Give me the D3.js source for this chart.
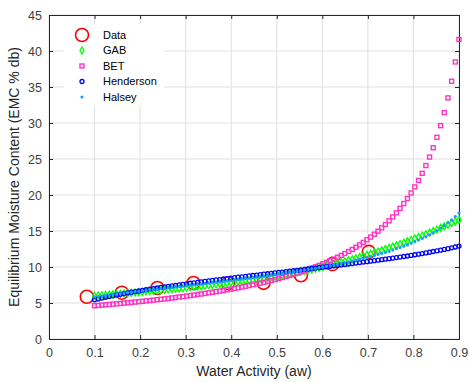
<!DOCTYPE html>
<html>
<head>
<meta charset="utf-8">
<script src="https://cdn.jsdelivr.net/npm/d3@7"></script>
<style>
  body { margin: 0; background: #fff; }
  svg { display: block; font-family: "Liberation Sans", Arial, sans-serif; }
</style>
</head>
<body>
<svg id="chart" width="469" height="382"></svg>
<script>
// measured data points
var dataAw = [0.083, 0.160, 0.238, 0.317, 0.393, 0.471, 0.553, 0.622, 0.702];
var dataEmc = [5.87, 6.43, 7.08, 7.78, 7.74, 7.8, 8.85, 10.4, 12.1];

// water activity grid of the fitted curves (0.1 .. 0.9, 100 points)
var aw = [0.1000, 0.1081, 0.1162, 0.1242, 0.1323, 0.1404, 0.1485, 0.1566, 0.1646, 0.1727,
  0.1808, 0.1889, 0.1970, 0.2051, 0.2131, 0.2212, 0.2293, 0.2374, 0.2455, 0.2535,
  0.2616, 0.2697, 0.2778, 0.2859, 0.2939, 0.3020, 0.3101, 0.3182, 0.3263, 0.3343,
  0.3424, 0.3505, 0.3586, 0.3667, 0.3747, 0.3828, 0.3909, 0.3990, 0.4071, 0.4152,
  0.4232, 0.4313, 0.4394, 0.4475, 0.4556, 0.4636, 0.4717, 0.4798, 0.4879, 0.4960,
  0.5040, 0.5121, 0.5202, 0.5283, 0.5364, 0.5444, 0.5525, 0.5606, 0.5687, 0.5768,
  0.5848, 0.5929, 0.6010, 0.6091, 0.6172, 0.6253, 0.6333, 0.6414, 0.6495, 0.6576,
  0.6657, 0.6737, 0.6818, 0.6899, 0.6980, 0.7061, 0.7141, 0.7222, 0.7303, 0.7384,
  0.7465, 0.7545, 0.7626, 0.7707, 0.7788, 0.7869, 0.7949, 0.8030, 0.8111, 0.8192,
  0.8273, 0.8354, 0.8434, 0.8515, 0.8596, 0.8677, 0.8758, 0.8838, 0.8919, 0.9000];

var gab = [6.00, 6.04, 6.08, 6.12, 6.16, 6.20, 6.24, 6.28, 6.33, 6.37,
  6.41, 6.45, 6.50, 6.54, 6.59, 6.63, 6.68, 6.73, 6.77, 6.82,
  6.87, 6.92, 6.97, 7.02, 7.07, 7.12, 7.18, 7.23, 7.29, 7.34,
  7.40, 7.46, 7.52, 7.57, 7.63, 7.69, 7.75, 7.82, 7.88, 7.95,
  8.01, 8.08, 8.15, 8.22, 8.29, 8.36, 8.44, 8.52, 8.60, 8.68,
  8.76, 8.85, 8.95, 9.04, 9.14, 9.23, 9.34, 9.44, 9.55, 9.65,
  9.76, 9.88, 10.01, 10.13, 10.26, 10.38, 10.52, 10.66, 10.79, 10.93,
  11.07, 11.22, 11.37, 11.53, 11.68, 11.83, 12.00, 12.16, 12.33, 12.49,
  12.66, 12.84, 13.02, 13.20, 13.38, 13.56, 13.76, 13.96, 14.15, 14.35,
  14.55, 14.77, 14.99, 15.21, 15.43, 15.65, 15.88, 16.10, 16.33, 16.55];

var bet = [4.62, 4.66, 4.71, 4.75, 4.79, 4.84, 4.89, 4.93, 4.98, 5.03,
  5.08, 5.13, 5.18, 5.23, 5.29, 5.34, 5.40, 5.46, 5.51, 5.57,
  5.63, 5.70, 5.76, 5.83, 5.89, 5.96, 6.03, 6.10, 6.18, 6.25,
  6.33, 6.41, 6.49, 6.57, 6.65, 6.74, 6.83, 6.92, 7.02, 7.11,
  7.21, 7.32, 7.42, 7.53, 7.64, 7.76, 7.87, 8.00, 8.12, 8.25,
  8.39, 8.53, 8.67, 8.82, 8.97, 9.13, 9.30, 9.47, 9.65, 9.83,
  10.02, 10.22, 10.43, 10.64, 10.87, 11.10, 11.34, 11.60, 11.87, 12.15,
  12.44, 12.75, 13.07, 13.42, 13.78, 14.15, 14.55, 14.98, 15.43, 15.90,
  16.41, 16.95, 17.52, 18.14, 18.81, 19.52, 20.28, 21.12, 22.02, 23.01,
  24.09, 25.27, 26.56, 28.01, 29.63, 31.44, 33.49, 35.80, 38.48, 41.60];

var henderson = [5.44, 5.56, 5.69, 5.80, 5.91, 6.02, 6.12, 6.21, 6.31, 6.40,
  6.50, 6.59, 6.67, 6.76, 6.84, 6.93, 7.01, 7.08, 7.16, 7.23,
  7.31, 7.38, 7.45, 7.53, 7.60, 7.67, 7.74, 7.80, 7.87, 7.93,
  8.00, 8.07, 8.13, 8.20, 8.26, 8.33, 8.39, 8.45, 8.52, 8.58,
  8.64, 8.70, 8.76, 8.82, 8.88, 8.94, 9.00, 9.06, 9.12, 9.18,
  9.24, 9.30, 9.36, 9.42, 9.48, 9.54, 9.60, 9.66, 9.73, 9.79,
  9.85, 9.91, 9.97, 10.04, 10.10, 10.16, 10.22, 10.29, 10.35, 10.42,
  10.48, 10.55, 10.61, 10.68, 10.74, 10.81, 10.88, 10.95, 11.02, 11.09,
  11.16, 11.23, 11.31, 11.38, 11.46, 11.53, 11.61, 11.70, 11.78, 11.87,
  11.95, 12.05, 12.15, 12.24, 12.34, 12.44, 12.55, 12.67, 12.78, 12.90];

var halsey = [5.85, 5.92, 5.99, 6.06, 6.13, 6.20, 6.26, 6.32, 6.39, 6.45,
  6.51, 6.57, 6.63, 6.68, 6.74, 6.80, 6.86, 6.92, 6.97, 7.03,
  7.09, 7.15, 7.21, 7.27, 7.33, 7.39, 7.45, 7.51, 7.56, 7.62,
  7.68, 7.74, 7.80, 7.87, 7.93, 7.99, 8.05, 8.12, 8.18, 8.25,
  8.31, 8.38, 8.44, 8.51, 8.57, 8.64, 8.71, 8.78, 8.86, 8.93,
  9.00, 9.08, 9.16, 9.23, 9.31, 9.39, 9.48, 9.56, 9.65, 9.73,
  9.82, 9.92, 10.01, 10.11, 10.20, 10.30, 10.41, 10.51, 10.62, 10.72,
  10.83, 10.95, 11.08, 11.20, 11.33, 11.45, 11.60, 11.74, 11.89, 12.03,
  12.18, 12.36, 12.54, 12.71, 12.89, 13.07, 13.30, 13.52, 13.75, 13.97,
  14.20, 14.48, 14.77, 15.06, 15.40, 15.74, 16.13, 16.54, 17.00, 17.50];

var xTicks = [0, 0.1, 0.2, 0.3, 0.4, 0.5, 0.6, 0.7, 0.8, 0.9];
var yTicks = [0, 5, 10, 15, 20, 25, 30, 35, 40, 45];
var legendNames = ["Data", "GAB", "BET", "Henderson", "Halsey"];

var svg = d3.select("#chart");
var padL = 49, padR = 459, padT = 15, padB = 339;
var axisColor = "#262626";

var x = d3.scaleLinear().domain([0, 0.9]).range([padL, padR]);
var y = d3.scaleLinear().domain([0, 45]).range([padB, padT]);

// grid
var grid = svg.append("g");
grid.selectAll(".gx").data(xTicks).enter().append("line")
  .attr("x1", d => x(d)).attr("x2", d => x(d))
  .attr("y1", padT).attr("y2", padB)
  .attr("stroke", "#dfdfdf").attr("stroke-width", 1);
grid.selectAll(".gy").data(yTicks).enter().append("line")
  .attr("x1", padL).attr("x2", padR)
  .attr("y1", d => y(d)).attr("y2", d => y(d))
  .attr("stroke", "#dfdfdf").attr("stroke-width", 1);

// axes, MATLAB style (ticks pointing in, box around)
var xAxis = d3.axisBottom(x).tickValues(xTicks).tickSize(-4).tickPadding(9)
  .tickFormat(d => d === 0 ? "0" : d3.format(".1f")(d));
var yAxis = d3.axisLeft(y).tickValues(yTicks).tickSize(-4).tickPadding(7);

svg.append("g").attr("transform", "translate(0," + padB + ")").call(xAxis);
svg.append("g").attr("transform", "translate(" + padL + ",0)").call(yAxis);
svg.append("g").attr("transform", "translate(0," + padT + ")")
  .call(d3.axisTop(x).tickValues(xTicks).tickSize(-4).tickFormat(""));
svg.append("g").attr("transform", "translate(" + padR + ",0)")
  .call(d3.axisRight(y).tickValues(yTicks).tickSize(-4).tickFormat(""));

svg.selectAll(".domain").attr("stroke", axisColor);
svg.selectAll(".tick line").attr("stroke", axisColor);
svg.selectAll(".tick text").attr("fill", "#404040").style("font-size", "12.5px");

// markers
var plot = svg.append("g");

plot.selectAll(".data").data(dataAw).enter().append("circle")
  .attr("cx", d => x(d)).attr("cy", (d, i) => y(dataEmc[i])).attr("r", 6.5)
  .attr("fill", "none").attr("stroke", "#ff0000").attr("stroke-width", 1.6);

var diamond = d3.symbol().type(d3.symbolDiamond).size(14);
plot.selectAll(".gab").data(aw).enter().append("path")
  .attr("d", diamond)
  .attr("transform", (d, i) => "translate(" + x(d) + "," + y(gab[i]) + ")")
  .attr("fill", "none").attr("stroke", "#00ff00").attr("stroke-width", 1.3);

plot.selectAll(".bet").data(aw).enter().append("rect")
  .attr("x", d => x(d) - 2).attr("y", (d, i) => y(bet[i]) - 2)
  .attr("width", 4).attr("height", 4)
  .attr("fill", "none").attr("stroke", "#ff33c4").attr("stroke-width", 1.4);

plot.selectAll(".hend").data(aw).enter().append("circle")
  .attr("cx", d => x(d)).attr("cy", (d, i) => y(henderson[i])).attr("r", 2)
  .attr("fill", "none").attr("stroke", "#0000ff").attr("stroke-width", 1.3);

plot.selectAll(".hal").data(aw).enter().append("circle")
  .attr("cx", d => x(d)).attr("cy", (d, i) => y(halsey[i])).attr("r", 1.6)
  .attr("fill", "#1e9bff");

// legend
var lg = svg.append("g");
lg.append("rect").attr("x", 64).attr("y", 24).attr("width", 100).attr("height", 82).attr("fill", "#fff");
var ly = d3.scalePoint().domain(legendNames).range([35, 97]);
var sx = 82;
lg.append("circle").attr("cx", sx).attr("cy", ly("Data")).attr("r", 6.5)
  .attr("fill", "none").attr("stroke", "#ff0000").attr("stroke-width", 1.6);
lg.append("path").attr("d", diamond).attr("transform", "translate(" + sx + "," + ly("GAB") + ")")
  .attr("fill", "none").attr("stroke", "#00ff00").attr("stroke-width", 1.3);
lg.append("rect").attr("x", sx - 2).attr("y", ly("BET") - 2).attr("width", 4).attr("height", 4)
  .attr("fill", "none").attr("stroke", "#ff33c4").attr("stroke-width", 1.4);
lg.append("circle").attr("cx", sx).attr("cy", ly("Henderson")).attr("r", 2)
  .attr("fill", "none").attr("stroke", "#0000ff").attr("stroke-width", 1.3);
lg.append("circle").attr("cx", sx).attr("cy", ly("Halsey")).attr("r", 1.6).attr("fill", "#1e9bff");
lg.selectAll(".lt").data(legendNames).enter().append("text")
  .attr("x", 103).attr("y", d => ly(d)).attr("dy", "0.35em")
  .attr("fill", "#000").style("font-size", "11px").text(d => d);

// axis labels
svg.append("text").attr("x", (padL + padR) / 2).attr("y", 376)
  .attr("text-anchor", "middle").attr("fill", axisColor).style("font-size", "14px")
  .text("Water Activity (aw)");
svg.append("text").attr("transform", "translate(19," + ((padT + padB) / 2) + ") rotate(-90)")
  .attr("text-anchor", "middle").attr("fill", axisColor).style("font-size", "14px")
  .text("Equilibrium Moisture Content (EMC % db)");
</script>
</body>
</html>
